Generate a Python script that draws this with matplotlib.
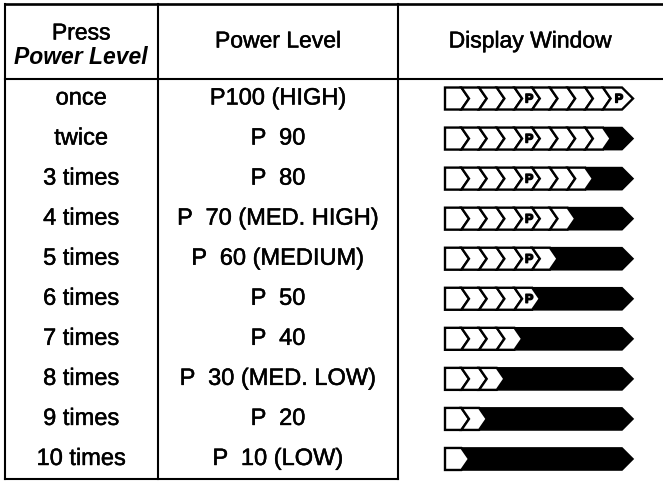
import matplotlib
matplotlib.use("Agg")
import matplotlib.pyplot as plt
from matplotlib.patches import Polygon
import matplotlib.patheffects as pe

# ---- data ----
presses = ["once", "twice", "3 times", "4 times", "5 times", "6 times",
           "7 times", "8 times", "9 times", "10 times"]
power_labels = ["P100 (HIGH)", "P  90", "P  80", "P  70 (MED. HIGH)",
                "P  60 (MEDIUM)", "P  50", "P  40", "P  30 (MED. LOW)",
                "P  20", "P  10 (LOW)"]
power_levels = [100, 90, 80, 70, 60, 50, 40, 30, 20, 10]
headers = ["Power Level", "Display Window"]

W, H = 663, 488
fig = plt.figure(figsize=(W / 100, H / 100), dpi=100)
ax = fig.add_axes([0, 0, 1, 1])
ax.set_xlim(0, W)
ax.set_ylim(H, 0)
ax.axis("off")

FONT = "Liberation Sans"
FS_H = 16.5
FS = 17
thick = [pe.withStroke(linewidth=0.35, foreground="black")]

# table geometry (pixels)
x_left, x_div1, x_div2, x_right = 4.5, 158, 398, 663
y_top, y_head, y_bot = 3.5, 78.5, 479
row_h = (y_bot - y_head) / len(presses)

lw = 1.5
ax.plot([x_left, x_right], [y_top, y_top], color="black", lw=1.9)
ax.plot([x_left, x_right], [y_head, y_head], color="black", lw=lw)
ax.plot([x_left, x_div2], [y_bot, y_bot], color="black", lw=lw)
ax.plot([x_left, x_left], [y_top, y_bot], color="black", lw=lw)
ax.plot([x_div1, x_div1], [y_top, y_bot], color="black", lw=lw)
ax.plot([x_div2, x_div2], [y_top, y_bot], color="black", lw=lw)

c1 = (x_left + x_div1) / 2
c2 = (x_div1 + x_div2) / 2
c3 = (x_div2 + 662) / 2

# header
ax.text(c1, 33, "Press", ha="center", va="center", fontsize=FS_H,
        family=FONT, path_effects=thick)
ax.text(c1, 58, "Power Level", ha="center", va="center", fontsize=FS_H,
        family=FONT, weight="bold", style="italic")
ax.text(c2, 41, headers[0], ha="center", va="center", fontsize=FS_H,
        family=FONT, path_effects=thick)
ax.text(c3, 41, headers[1], ha="center", va="center", fontsize=FS_H,
        family=FONT, path_effects=thick)

# display bar geometry
bx0 = 445
seg_w = 17.7
x1c = 447.5
chev = 3.8
tip_c, tip_x = 5.5, 627.5
bar_h = 22
nseg = 10


def boundary(k, yt, yb):
    """chevron boundary points (top, mid, bottom) for segment boundary k"""
    ym = (yt + yb) / 2
    if k == 0:
        return [(bx0, yt), (bx0, ym), (bx0, yb)]
    if k == nseg:
        return [(tip_x - tip_c, yt), (tip_x + tip_c, ym), (tip_x - tip_c, yb)]
    xk = x1c + k * seg_w
    return [(xk - chev, yt), (xk + chev, ym), (xk - chev, yb)]


for i, (p, lab, lev) in enumerate(zip(presses, power_labels, power_levels)):
    yc = y_head + (i + 0.5) * row_h
    ax.text(c1, yc, p, ha="center", va="center", fontsize=FS, family=FONT,
            path_effects=thick)
    ax.text(c2, yc, lab, ha="center", va="center", fontsize=FS, family=FONT,
            path_effects=thick)

    yt, yb = yc - bar_h / 2, yc + bar_h / 2
    n_white = lev // 10
    if n_white < nseg:
        left = boundary(n_white, yt, yb)
        right = boundary(nseg, yt, yb)
        pts = [left[0], left[1], left[2], right[2], right[1], right[0]]
        ax.add_patch(Polygon(pts, closed=True, facecolor="black",
                             edgecolor="black", lw=1.2, zorder=2))
    for s in range(n_white):
        left = boundary(s, yt, yb)
        right = boundary(s + 1, yt, yb)
        pts = [left[0], left[1], left[2], right[2], right[1], right[0]]
        ax.add_patch(Polygon(pts, closed=True, facecolor="white",
                             edgecolor="black", lw=1.7, joinstyle="miter",
                             zorder=3))
    # P markers at 50% and 100%
    for mark in (5, 10):
        if n_white >= mark:
            xr = boundary(mark, yt, yb)[0][0]
            ax.text(xr - 3, yc + 1, "P", ha="center", va="center",
                    fontsize=9, family=FONT, weight="bold", zorder=4,
                    path_effects=[pe.withStroke(linewidth=1.0,
                                                foreground="black")])

fig.savefig("out.png", dpi=100)
